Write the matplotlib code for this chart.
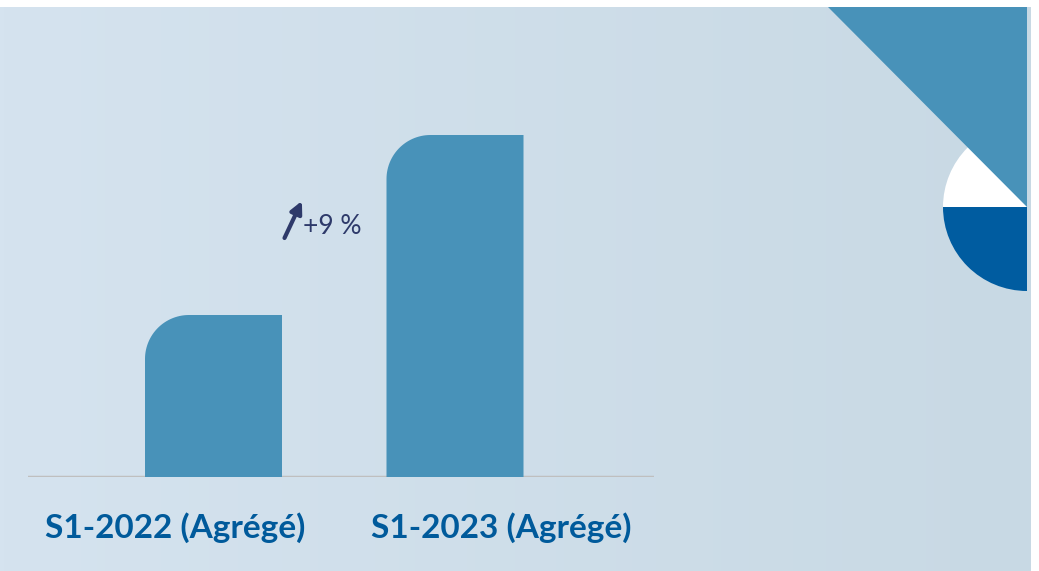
import numpy as np
import matplotlib
matplotlib.use('Agg')
import matplotlib.pyplot as plt
from matplotlib.path import Path
from matplotlib.patches import PathPatch, Polygon, Wedge

# donnees (hauteur visuelle des barres)
categories = ['S1-2022 (Agrégé)', 'S1-2023 (Agrégé)']
values = [162, 342]
variation = '+9 %'

W, H = 1039, 571
bar_color = '#4892b9'
label_color = '#005a9b'
dark_blue = '#005ca0'
text_color = '#2e3a6a'

fig = plt.figure(figsize=(W / 100, H / 100), dpi=100)
fig.patch.set_facecolor('white')

# fond en degrade
bg = fig.add_axes([0, 0, 1, 1])
bg.set_xlim(0, W)
bg.set_ylim(H, 0)
bg.axis('off')
c_left = np.array([213, 227, 239]) / 255
c_right = np.array([200, 217, 228]) / 255
t = np.linspace(0, 1, 256)
grad = (c_left[None, :] * (1 - t[:, None]) + c_right[None, :] * t[:, None])[None, :, :]
bg.imshow(grad, extent=[0, 1031, H, 7], aspect='auto', zorder=0)

# decoration en haut a droite (axe y inverse : angles en miroir)
cx, cy, r = 1027, 207, 84
bg.add_patch(Wedge((cx, cy), r, 180, 270, facecolor='white', edgecolor='none', zorder=1))
bg.add_patch(Wedge((cx, cy), r, 90, 180, facecolor=dark_blue, edgecolor='none', zorder=1))
bg.add_patch(Polygon([[828, 7], [1027, 7], [1027, 207]], closed=True,
                     facecolor=bar_color, edgecolor='none', zorder=2))

# axes des barres
x0_px, x1_px = 28, 654
top_px, base_px = 7, 477
ax = fig.add_axes([x0_px / W, (H - base_px) / H, (x1_px - x0_px) / W, (base_px - top_px) / H])
ax.patch.set_alpha(0)
px_per_unit = 241.5
ax.set_xlim((x0_px - 213.5) / px_per_unit, (x1_px - 213.5) / px_per_unit)
ax.set_ylim(0, base_px - top_px)
ax.axis('off')

bar_w = 137 / px_per_unit
rad_y = 44
rad_x = rad_y / px_per_unit


def rounded_bar(x, h):
    left, right = x - bar_w / 2, x + bar_w / 2
    th = np.linspace(np.pi, np.pi / 2, 30)
    arc = np.column_stack([left + rad_x + rad_x * np.cos(th),
                           h - rad_y + rad_y * np.sin(th)])
    verts = [(left, 0)] + [tuple(p) for p in arc] + [(right, h), (right, 0), (left, 0)]
    codes = [Path.MOVETO] + [Path.LINETO] * (len(verts) - 2) + [Path.CLOSEPOLY]
    return PathPatch(Path(verts, codes), facecolor=bar_color, edgecolor='none', zorder=3)


for i, v in enumerate(values):
    ax.add_patch(rounded_bar(i, v))

# ligne de base
ax.axhline(0, color='#bfbfbf', lw=2.5, zorder=2)

# etiquettes
label_dx = [-0.16, 0.19]
for i, lab in enumerate(categories):
    ax.text(i + label_dx[i], -51, lab, ha='center', va='center', fontsize=24,
            fontweight='bold', color=label_color, family='Lato', clip_on=False)

# fleche et variation
ax.annotate('', xy=(0.366, 276), xytext=(0.294, 239),
            arrowprops=dict(arrowstyle='-|>,head_length=0.7,head_width=0.35',
                            color=text_color, lw=3, shrinkA=0, shrinkB=0))
ax.text(0.371, 251, variation, ha='left', va='center', fontsize=19,
        color=text_color, family='Lato')

fig.savefig('out.png', dpi=100)
